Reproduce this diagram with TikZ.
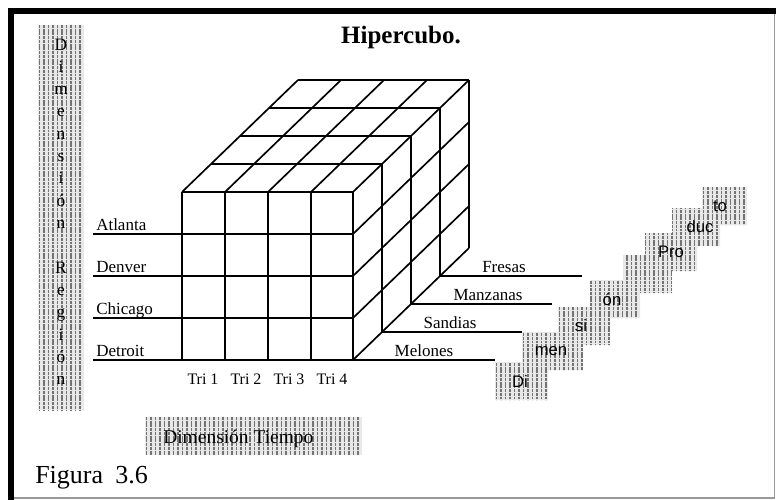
\documentclass[tikz,border=0pt]{standalone}
\usepackage{fontspec}
\setmainfont{Liberation Serif}
\newfontfamily\arialf{Liberation Sans}
\begin{document}
\begin{tikzpicture}[x=0.75pt,y=-0.75pt,
  cubeline/.style={line width=1.25pt, black, line join=round},
  hatchline/.style={black!55, line width=1.15pt, dash pattern=on 2.2pt off 0.6pt},
  hatchbg/.style={fill=black!9},
  lbl/.style={font=\fontsize{12.75}{14}\selectfont, inner sep=0pt},
  trilbl/.style={font=\fontsize{12}{14}\selectfont, inner sep=0pt, anchor=base},
  vlet/.style={font=\fontsize{13}{14}\selectfont, inner sep=0pt, anchor=base},
  stairlbl/.style={font=\arialf\fontsize{12.5}{14}\selectfont, inner sep=0pt}]
\useasboundingbox (0,0) rectangle (776,500);
\fill[white] (0,0) rectangle (776,500);
% frame
\draw[black!40, line width=1.2pt] (774.5,10) -- (774.5,498.2) -- (11,498.2);
\draw[line width=4.4pt, line join=miter] (11,500) -- (11,10.7) -- (776,10.7);
% title
\node[font=\bfseries\fontsize{18.75}{20}\selectfont, inner sep=0pt, anchor=base] (title) at (401,43) {Hipercubo.};
% vertical hatched column
\begin{scope}
  \clip (38,25) rectangle (84,410);
  \fill[hatchbg] (38,25) rectangle (84,410);
  \foreach \x in {39.5,44,...,84} \draw[hatchline] (\x,25) -- (\x,410);
\end{scope}
\foreach \c [count=\i from 0] in {D,i,m,e,n,s,i,ó,n,{},R,e,g,i,ó,n}
  \node[vlet] (v\i) at (61,50+22.33*\i) {\c};
% Dimension Tiempo box
\begin{scope}
  \clip (145,417) rectangle (362,455);
  \fill[hatchbg] (145,417) rectangle (362,455);
  \foreach \x in {146.5,151,...,362} \draw[hatchline] (\x,417) -- (\x,455);
\end{scope}
\node[font=\fontsize{14.6}{16}\selectfont, inner sep=0pt, anchor=base west] (tiempo) at (163,443) {Dimensión Tiempo};
% stair boxes
\begin{scope}
  \clip (495,362) rectangle (548,400)
        (522,332) rectangle (583,370)
        (558,307) rectangle (610,345)
        (590,280) rectangle (640,318)
        (623,255) rectangle (672,293)
        (645,233) rectangle (697,271)
        (672,208) rectangle (720,246)
        (702,187) rectangle (747,225);
  \fill[hatchbg] (490,180) rectangle (750,405);
  \foreach \x in {496.5,501,...,748} \draw[hatchline] (\x,180) -- (\x,405);
\end{scope}
\node[stairlbl] (p1) at (520,381) {Di};
\node[stairlbl] (p2) at (551,351) {men};
\node[stairlbl] (p3) at (581,326) {si};
\node[stairlbl] (p4) at (612,299) {ón};
\node[stairlbl] (p5) at (671,252) {Pro};
\node[stairlbl] (p6) at (700,227) {duc};
\node[stairlbl] (p7) at (720,206) {to};
% cube geometry
\def\dx{29}\def\dy{28}
% front verticals
\foreach \x in {182,225,268,311,353}
  \draw[cubeline] (\x,192) -- (\x,360);
% front horizontal top
\draw[cubeline] (182,192) -- (353,192);
% row lines extend left
\foreach \y in {234,276,318,360}
  \draw[cubeline] (93,\y) -- (353,\y);
% top face
\foreach \k in {1,...,4}
  \draw[cubeline] (182+\dx*\k,192-\dy*\k) -- (353+\dx*\k,192-\dy*\k);
\foreach \x in {182,225,268,311,353}
  \draw[cubeline] (\x,192) -- ++(4*\dx,-4*\dy);
% right face
\foreach \k in {1,...,4}
  \draw[cubeline] (353+\dx*\k,192-\dy*\k) -- (353+\dx*\k,360-\dy*\k);
\foreach \y in {234,276,318,360}
  \draw[cubeline] (353,\y) -- ++(4*\dx,-4*\dy);
% product lines
\draw[cubeline] (353,360) -- (495,360);
\draw[cubeline] (353+\dx,360-\dy) -- (522,360-\dy);
\draw[cubeline] (353+2*\dx,360-2*\dy) -- (552,360-2*\dy);
\draw[cubeline] (353+3*\dx,360-3*\dy) -- (582,360-3*\dy);
% labels
\node[lbl, anchor=base west] (atl) at (96,230) {Atlanta};
\node[lbl, anchor=base west] (den) at (96,272.5) {Denver};
\node[lbl, anchor=base west] (chi) at (96,314.5) {Chicago};
\node[lbl, anchor=base west] (det) at (96,356.5) {Detroit};
\node[trilbl] (t1) at (203,384) {Tri 1};
\node[trilbl] (t2) at (246,384) {Tri 2};
\node[trilbl] (t3) at (289,384) {Tri 3};
\node[trilbl] (t4) at (332,384) {Tri 4};
\node[lbl, anchor=base] (mel) at (424,356.5) {Melones};
\node[lbl, anchor=base] (san) at (450,328.5) {Sandias};
\node[lbl, anchor=base] (man) at (488,300.5) {Manzanas};
\node[lbl, anchor=base] (fre) at (504,272) {Fresas};
% figure caption
\node[font=\fontsize{19.5}{22}\selectfont, inner sep=0pt, anchor=base west] (fig) at (35,483) {Figura\hspace{0.22em} 3.6};
\end{tikzpicture}
\end{document}
